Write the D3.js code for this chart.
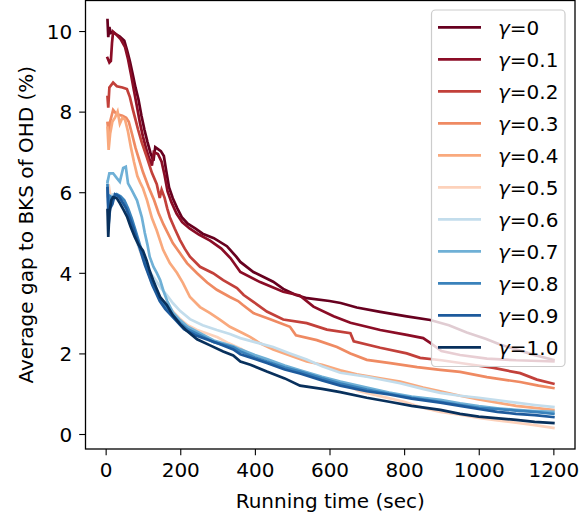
<!DOCTYPE html>
<html>
<head>
<meta charset="utf-8">
<script src="https://cdn.jsdelivr.net/npm/d3@7"></script>
<style>
  html, body { margin: 0; padding: 0; background: #fff; }
  svg { display: block; font-family: "DejaVu Sans", sans-serif; }
</style>
</head>
<body>
<svg id="chart" width="586" height="519"></svg>
<script>
// Legend labels, one per gamma setting
const gammaLabels = ["0", "0.1", "0.2", "0.3", "0.4", "0.5", "0.6", "0.7", "0.8", "0.9", "1.0"];

// Average gap (%) against running time (sec), one [time, gap] list per gamma
const gap00 = [[5,10.27],[7,9.85],[10,10.1],[14,9.95],[20,9.97],[28,9.92],[38,9.86],[50,9.76],[58,9.5],[65,9.25],[72,8.95],[80,8.6],[88,8.3],[96,7.9],[104,7.55],[112,7.25],[120,6.98],[128,6.78],[133,7.12],[148,7.02],[156,6.9],[162,6.55],[170,6.12],[180,5.85],[192,5.6],[204,5.38],[220,5.22],[240,5.1],[260,4.97],[290,4.86],[325,4.66],[350,4.4],[361,4.27],[396,4.02],[449,3.78],[476,3.6],[510,3.45],[540,3.37],[600,3.3],[630,3.25],[673,3.14],[736,3.03],[807,2.92],[870,2.83],[920,2.7],[968,2.52],[1020,2.36],[1057,2.22],[1100,2.1],[1146,1.97],[1200,1.84]];
const gap01 = [[5,9.33],[10,9.22],[14,9.26],[17,9.7],[20,9.98],[30,9.9],[40,9.8],[52,9.6],[60,9.3],[68,8.92],[76,8.52],[84,8.12],[92,7.72],[100,7.38],[108,7.1],[116,6.86],[124,6.66],[129,7.0],[140,6.95],[150,6.76],[158,6.42],[166,6.02],[176,5.76],[190,5.47],[205,5.26],[225,5.1],[250,4.95],[280,4.8],[310,4.6],[335,4.36],[361,4.02],[414,3.77],[476,3.53],[520,3.44],[557,3.16],[611,2.92],[656,2.76],[736,2.58],[807,2.46],[851,2.38],[870,2.26],[900,2.06],[950,1.96],[1022,1.87],[1100,1.83],[1200,1.8]];
const gap02 = [[5,8.36],[7,8.1],[10,8.6],[20,8.72],[30,8.63],[45,8.6],[57,8.56],[65,8.36],[73,8.05],[80,7.8],[87,7.55],[97,7.23],[110,6.88],[124,6.48],[137,6.2],[145,5.86],[150,6.06],[158,5.86],[165,5.6],[172,5.38],[185,5.1],[199,4.82],[212,4.6],[226,4.4],[253,4.15],[288,3.99],[315,3.82],[352,3.62],[370,3.45],[396,3.28],[432,3.04],[476,2.84],[539,2.75],[593,2.59],[656,2.5],[665,2.3],[736,2.14],[807,2.0],[843,1.89],[900,1.83],[960,1.75],[1040,1.64],[1111,1.51],[1156,1.35],[1200,1.25]];
const gap03 = [[5,7.72],[8,7.47],[12,7.75],[20,8.04],[28,7.95],[36,7.92],[45,7.9],[55,7.85],[62,7.75],[70,7.47],[80,7.1],[90,6.8],[100,6.5],[115,6.13],[130,5.8],[142,5.48],[155,5.2],[166,5.0],[180,4.74],[199,4.49],[218,4.24],[245,3.99],[272,3.76],[298,3.58],[333,3.4],[355,3.3],[368,3.2],[396,3.0],[441,2.85],[494,2.66],[510,2.45],[566,2.33],[620,2.16],[656,2.0],[700,1.84],[763,1.76],[835,1.66],[897,1.59],[950,1.54],[1022,1.41],[1111,1.29],[1160,1.2],[1200,1.14]];
const gap04 = [[5,7.6],[8,7.05],[12,7.45],[18,7.75],[25,7.85],[32,8.0],[38,7.7],[45,7.85],[52,7.8],[60,7.5],[68,7.1],[76,6.75],[85,6.4],[92,6.25],[100,6.1],[111,5.8],[124,5.36],[137,5.05],[154,4.57],[172,4.24],[191,4.0],[207,3.75],[226,3.4],[253,3.15],[280,3.0],[307,2.83],[333,2.66],[368,2.5],[387,2.41],[414,2.25],[449,2.1],[494,1.95],[539,1.8],[580,1.72],[629,1.58],[673,1.48],[736,1.38],[789,1.3],[851,1.15],[897,1.06],[950,0.95],[1000,0.86],[1050,0.78],[1100,0.7],[1150,0.65],[1200,0.6]];
const gap05 = [[5,5.9],[8,6.2],[12,5.95],[20,5.9],[30,5.85],[42,5.85],[52,5.7],[62,5.45],[72,5.15],[82,4.85],[92,4.55],[102,4.3],[112,4.05],[122,3.8],[132,3.6],[142,3.45],[155,3.3],[170,3.15],[185,3.0],[200,2.85],[220,2.7],[245,2.58],[270,2.5],[300,2.4],[330,2.25],[361,2.12],[400,1.92],[449,1.72],[494,1.6],[539,1.47],[580,1.36],[629,1.27],[680,1.06],[744,0.92],[800,0.8],[850,0.65],[897,0.55],[950,0.48],[1000,0.4],[1050,0.34],[1100,0.28],[1150,0.22],[1200,0.15]];
const gap06 = [[5,6.27],[8,5.7],[12,5.9],[20,5.95],[30,5.9],[45,5.7],[60,5.4],[75,5.0],[90,4.6],[105,4.3],[120,4.0],[135,3.8],[150,3.6],[164,3.45],[180,3.25],[200,3.05],[226,2.85],[260,2.7],[298,2.58],[333,2.48],[361,2.38],[400,2.28],[449,2.16],[494,2.0],[539,1.85],[580,1.68],[629,1.52],[700,1.42],[789,1.26],[850,1.12],[897,1.02],[950,0.95],[1000,0.9],[1100,0.78],[1150,0.72],[1200,0.67]];
const gap07 = [[5,6.25],[10,6.47],[20,6.47],[30,6.35],[38,6.26],[47,6.6],[54,6.63],[60,6.22],[70,6.05],[84,5.8],[97,5.38],[105,4.99],[112,4.7],[118,4.4],[128,4.15],[137,4.0],[146,3.82],[155,3.55],[165,3.3],[180,3.02],[200,2.82],[220,2.66],[253,2.5],[290,2.32],[342,2.18],[361,2.1],[400,1.96],[432,1.86],[480,1.7],[521,1.58],[580,1.42],[629,1.3],[700,1.15],[760,1.03],[820,0.93],[897,0.85],[950,0.76],[1000,0.69],[1050,0.64],[1100,0.6],[1150,0.57],[1200,0.55]];
const gap08 = [[5,6.17],[8,5.5],[12,5.9],[20,5.85],[30,5.95],[40,5.9],[50,5.8],[60,5.6],[70,5.35],[80,5.05],[90,4.75],[100,4.45],[110,4.15],[120,3.9],[130,3.65],[140,3.45],[150,3.3],[165,3.1],[180,2.95],[200,2.75],[220,2.6],[253,2.45],[290,2.28],[342,2.15],[361,2.05],[400,1.9],[432,1.8],[480,1.65],[521,1.55],[580,1.38],[629,1.25],[700,1.1],[760,1.0],[820,0.9],[897,0.8],[950,0.72],[1000,0.65],[1050,0.62],[1100,0.58],[1150,0.55],[1200,0.5]];
const gap09 = [[5,6.1],[8,5.2],[12,5.6],[18,5.7],[25,5.95],[35,5.9],[45,5.75],[55,5.6],[65,5.35],[75,5.1],[85,4.8],[95,4.5],[105,4.2],[115,3.95],[125,3.7],[135,3.5],[145,3.3],[160,3.1],[175,2.95],[190,2.8],[210,2.6],[240,2.45],[270,2.35],[300,2.25],[342,2.1],[361,1.98],[400,1.86],[432,1.76],[480,1.6],[521,1.5],[580,1.33],[629,1.2],[700,1.06],[760,0.98],[820,0.88],[897,0.78],[950,0.7],[1000,0.62],[1050,0.55],[1100,0.5],[1150,0.47],[1200,0.42]];
const gap10 = [[5,5.56],[7,4.89],[10,5.48],[15,5.8],[20,5.88],[30,5.85],[38,5.73],[48,5.56],[58,5.38],[67,5.14],[78,4.89],[88,4.7],[100,4.55],[110,4.3],[118,4.05],[127,3.82],[137,3.6],[146,3.4],[164,3.2],[180,2.95],[200,2.72],[215,2.58],[245,2.35],[280,2.2],[315,2.05],[342,1.95],[361,1.8],[388,1.72],[432,1.55],[480,1.38],[521,1.2],[580,1.12],[629,1.04],[700,0.9],[760,0.8],[820,0.7],[897,0.6],[950,0.5],[1000,0.43],[1100,0.35],[1150,0.3],[1200,0.27]];

const gapSeries = [gap00, gap01, gap02, gap03, gap04, gap05, gap06, gap07, gap08, gap09, gap10];
const lineColors = ["#67001f","#8b0d26","#c2403a","#ef8a62","#f9a97d","#fdd2bb","#c3ddec","#6fb0d6","#3a82bb","#1d5a9c","#08305c"];

const xTicks = [0, 200, 400, 600, 800, 1000, 1200];
const yTicks = [0, 2, 4, 6, 8, 10];

const FONT = 20;
const svg = d3.select("#chart");
const plot = { left: 85.5, right: 575, top: 0.5, bottom: 449 };

const x = d3.scaleLinear().domain([-54, 1258]).range([plot.left, plot.right]);
const y = d3.scaleLinear().domain([-0.372, 10.77]).range([plot.bottom, 0]);

// series lines, drawn in gamma order so the highest gamma ends on top
const line = d3.line().x(d => x(d[0])).y(d => y(d[1]));
const g = svg.append("g");
gapSeries.forEach((s, i) => {
  g.append("path")
    .attr("d", line(s))
    .attr("fill", "none")
    .attr("stroke", lineColors[i])
    .attr("stroke-width", 2.7)
    .attr("stroke-linejoin", "miter")
    .attr("stroke-linecap", "square");
});

// axes
const xAxis = d3.axisBottom(x).tickValues(xTicks).tickSize(6.3).tickPadding(7).tickFormat(d3.format("d"));
const yAxis = d3.axisLeft(y).tickValues(yTicks).tickSize(6.3).tickPadding(7).tickFormat(d3.format("d"));

const gx = svg.append("g").attr("transform", `translate(0,${plot.bottom})`).call(xAxis);
const gy = svg.append("g").attr("transform", `translate(${plot.left},0)`).call(yAxis);
[gx, gy].forEach(a => {
  a.select(".domain").remove();
  a.selectAll(".tick line").attr("stroke", "#000").attr("stroke-width", 1.1);
  a.selectAll(".tick text").attr("fill", "#000").attr("font-size", FONT).attr("font-family", "DejaVu Sans");
});
gy.selectAll(".tick text").attr("dy", "0.36em");
gx.selectAll(".tick text").attr("dy", "0.74em");

// frame
svg.append("rect")
  .attr("x", plot.left).attr("y", plot.top)
  .attr("width", plot.right - plot.left).attr("height", plot.bottom - plot.top)
  .attr("fill", "none").attr("stroke", "#000").attr("stroke-width", 1.3);

// axis titles
svg.append("text")
  .attr("x", (plot.left + plot.right) / 2).attr("y", 508)
  .attr("text-anchor", "middle").attr("font-size", FONT)
  .text("Running time (sec)");
svg.append("text")
  .attr("transform", `translate(33,${(plot.top + plot.bottom) / 2}) rotate(-90)`)
  .attr("text-anchor", "middle").attr("font-size", FONT)
  .text("Average gap to BKS of OHD (%)");

// legend
const legend = svg.append("g");
legend.append("rect")
  .attr("x", 431.5).attr("y", 10).attr("width", 133.5).attr("height", 356.5)
  .attr("rx", 4).attr("ry", 4)
  .attr("fill", "#fff").attr("fill-opacity", 0.8)
  .attr("stroke", "#cccccc").attr("stroke-width", 1.2);
gammaLabels.forEach((lab, i) => {
  const cy = 27.3 + i * 32;
  legend.append("line")
    .attr("x1", 438).attr("x2", 481).attr("y1", cy).attr("y2", cy)
    .attr("stroke", lineColors[i]).attr("stroke-width", 2.7);
  const t = legend.append("text")
    .attr("x", 498).attr("y", cy + 7.3).attr("font-size", FONT);
  t.append("tspan").attr("font-style", "italic").text("γ");
  t.append("tspan").text("=" + lab);
});
</script>
</body>
</html>
